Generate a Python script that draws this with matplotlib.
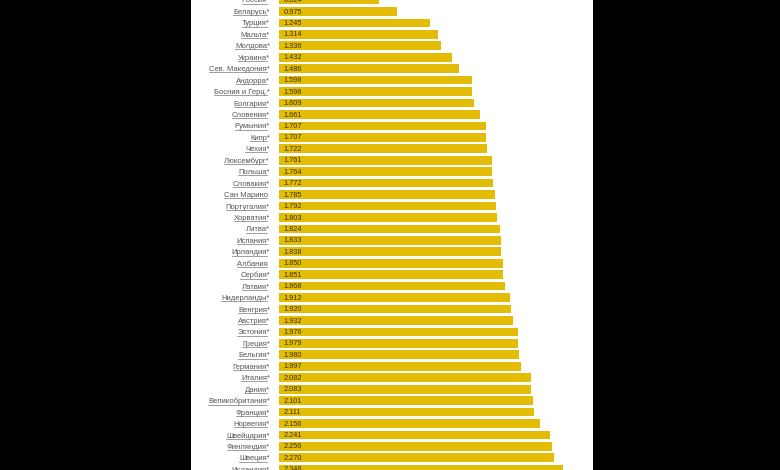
import matplotlib
matplotlib.use("Agg")
import matplotlib.pyplot as plt
from matplotlib.patches import Rectangle
from matplotlib.lines import Line2D

countries = ["Россия*", "Беларусь*", "Турция*", "Мальта*", "Молдова*", "Украина*",
             "Сев. Македония*", "Андорра*", "Босния и Герц.*", "Болгария*", "Словения*",
             "Румыния*", "Кипр*", "Чехия*", "Люксембург*", "Польша*", "Словакия*",
             "Сан Марино ", "Португалия*", "Хорватия*", "Литва*", "Испания*", "Ирландия*",
             "Албания ", "Сербия*", "Латвия*", "Нидерланды*", "Венгрия*", "Австрия*",
             "Эстония*", "Греция*", "Бельгия*", "Германия*", "Италия*", "Дания*",
             "Великобритания*", "Франция*", "Норвегия*", "Швейцария*", "Финляндия*",
             "Швеция*", "Исландия*"]
values = [0.824, 0.975, 1.245, 1.314, 1.336, 1.432, 1.486, 1.598, 1.598, 1.609, 1.661,
          1.707, 1.707, 1.722, 1.761, 1.764, 1.772, 1.785, 1.792, 1.803, 1.824, 1.833,
          1.838, 1.850, 1.851, 1.868, 1.912, 1.920, 1.932, 1.976, 1.979, 1.980, 1.997,
          2.082, 2.083, 2.101, 2.111, 2.156, 2.241, 2.256, 2.270, 2.348]

W, H = 780, 470
fig = plt.figure(figsize=(7.8, 4.7), dpi=100, facecolor="black")
fig.patches.append(Rectangle((191 / W, 0), (593 - 191) / W, 1, transform=fig.transFigure,
                             facecolor="white", edgecolor="none", zorder=-5))

x0, x1 = 279, 593
scale = 121.0
row = 11.47
ax = fig.add_axes([x0 / W, 0, (x1 - x0) / W, 1])
ax.set_zorder(2)
ax.set_facecolor("none")
pos = list(range(len(countries)))
ax.barh(pos, values, height=0.76, color="#E2BC05", edgecolor="none")
ax.set_xlim(0, (x1 - x0) / scale)
ax.set_ylim((H + 1) / row, 1 / row)
ax.set_yticks(pos)
ax.set_yticklabels(countries, fontsize=5.5, color="#555555", family="Liberation Sans")
ax.tick_params(axis="y", length=0, pad=6.5)
ax.set_xticks([])
for s in ax.spines.values():
    s.set_visible(False)
for p, v in zip(pos, values):
    ax.text(0.04, p + 0.05, f"{v:.3f}", va="center", ha="left", fontsize=5.3,
            color="#3d3400", family="Liberation Sans")

fig.canvas.draw()
r = fig.canvas.get_renderer()
for lab in ax.get_yticklabels():
    bb = lab.get_window_extent(renderer=r)
    y = bb.y0 + 0.8
    fig.lines.append(Line2D([bb.x0 / W, (bb.x1 - 3) / W], [y / H, y / H],
                            transform=fig.transFigure, color="#777777", lw=0.5, zorder=3))

fig.savefig("out.png", dpi=100, facecolor="black")
